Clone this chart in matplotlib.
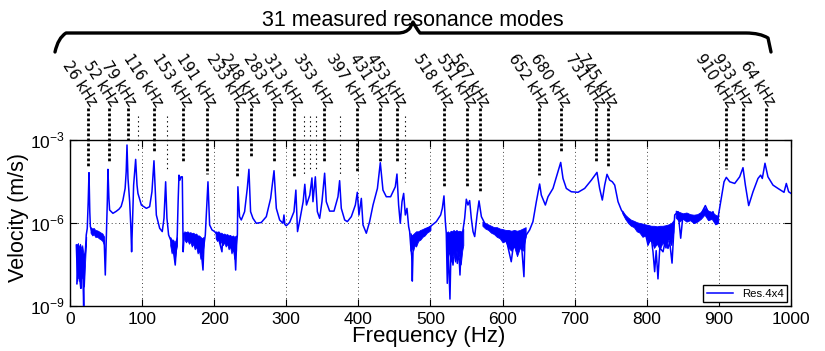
import numpy as np
import matplotlib
matplotlib.use("Agg")
import matplotlib.pyplot as plt
from matplotlib.path import Path
from matplotlib.patches import PathPatch
import matplotlib.transforms as mtrans

plt.rcParams['font.family'] = ['Liberation Sans', 'DejaVu Sans']
plt.rcParams['mathtext.fontset'] = 'custom'
plt.rcParams['mathtext.rm'] = 'Liberation Sans'

freq_hz = [8.8, 10.5, 12.2, 13.6, 15.0, 16.5, 18.0, 19.0, 19.8, 21.2, 22.6, 24.0, 25.3, 26.4,
           27.5, 28.3, 30, 35, 40, 44, 47.5, 49.0, 50.5, 51.8, 52.7, 54, 55, 59.6, 64, 68,
           71, 73.5, 76.5, 78, 79.1, 80.5, 82.8, 84.5, 85.5, 86.8, 88.3, 91.1, 93, 94.3,
           99, 106, 110.5, 113.7, 116.5, 119.8, 124.4, 128, 130.4, 132.7, 134.5, 136.8,
           140.5, 143, 146, 147.5, 148.8, 150, 151.2, 152.5, 154, 155.8, 157, 158.5, 165,
           172, 178, 182, 184.5, 185.8, 187.7, 189.5, 191.4, 193.7, 197, 200.6, 205, 210.8,
           212, 218, 224, 228.5, 229.8, 231, 232.2, 232.9, 235.2, 237.6, 242.2, 245.9,
           248.2, 250.5, 253.8, 258.4, 265.4, 272.3, 278.3, 283, 286.2, 290.8, 295.4,
           296.8, 298, 300, 304.7, 310.7, 313.3, 315.6, 318.8, 323.4, 325.7, 328, 332.6,
           335.6, 337, 340.3, 343.1, 346.3, 349.5, 353.2, 355.5, 360.1, 366.2, 371.7, 374,
           376.3, 381, 384.7, 390.2, 395.8, 398.5, 400.8, 404.1, 406.4, 411, 415.6, 420.3,
           426.4, 430.4, 434.1, 438.7, 444.7, 451.2, 453.5, 455.8, 458.1, 460.5, 462.8,
           465.1, 467.4, 469.7, 471.1, 472.5, 474.0, 474.8, 476, 480, 486, 492, 496.5,
           501.1, 508.1, 514.1, 516.4, 518.7, 520.6, 521.9, 523.3, 524.5, 527.0, 528.5,
           531.2, 534, 537.2, 539, 540.9, 542.5, 544.1, 547.4, 549.7, 552, 554.3, 556.6,
           559, 561.3, 564.6, 567.3, 570.6, 575.2, 582.2, 589.1, 595, 600, 606, 612, 615,
           620, 626, 629.6, 631, 632.9, 637.5, 642.1, 646.8, 651.4, 653.7, 659.3, 663,
           669.9, 676.8, 680.6, 683.8, 688.4, 695.3, 704.6, 713.8, 723.1, 730.9, 734.6,
           738.3, 741.6, 744.8, 748.5, 752.2, 755.5, 760.1, 764.7, 771.7, 778.6, 788, 797,
           801.7, 806, 808.6, 810.9, 813, 815.5, 818, 822.5, 826, 829.4, 831.7, 835, 838.7,
           843.3, 847, 850.2, 854.9, 859.5, 866.4, 871, 875.6, 881.2, 884, 887.2, 891.8,
           895.1, 897.9, 900.2, 903.4, 907.1, 910.3, 915, 921.9, 928.8, 933.4, 936.7,
           941.3, 947.3, 954.2, 957.9, 960.2, 963.9, 968, 975, 981.9, 990.3, 993.5, 996.7,
           1000]
vel_exp = [-6.8, -8.1, -6.9, -8.0, -8.36, -7.0, -7.9, -9.0, -7.3, -7.1, -6.43, -6.19, -5.23, -4.18,
           -5.59, -6.13, -6.28, -6.36, -6.42, -6.5, -6.67, -7.88, -6.43, -5.23, -4.06, -5.1, -5.53, -5.65, -5.58, -5.5,
           -5.4, -5.17, -4.75, -4.14, -3.18, -4.39, -5.23, -6.19, -7.04, -5.95, -4.63, -3.70, -4.63, -4.93,
           -5.35, -5.47, -5.41, -4.87, -3.75, -5.71, -6.19, -6.31, -5.83, -4.51, -5.83, -6.43,
           -6.67, -6.9, -7.52, -6.92, -6.43, -5.23, -4.27, -4.45, -4.33, -4.33, -7.04, -6.37, -6.5,
           -6.6, -6.75, -7.0, -7.70, -6.8, -6.43, -5.47, -4.51, -6.07, -6.25, -6.31, -6.45, -7.04,
           -6.5, -6.6, -6.7, -7.0, -7.7, -6.8, -6.43, -4.69, -5.77, -5.89, -5.59, -4.75,
           -4.06, -5.59, -5.83, -6.01, -5.98, -5.77, -5.11, -4.11, -5.47, -5.89, -6.01,
           -5.71, -6.05, -6.10, -5.98, -5.59, -4.81, -6.31, -5.89, -5.23, -4.60, -5.35, -4.99,
           -4.37, -5.23, -4.33, -5.59, -5.83, -5.23, -4.20, -5.23, -5.57, -5.57, -5.05, -4.47,
           -5.47, -5.89, -5.95, -5.77, -5.35, -4.89, -5.71, -5.11, -6.07, -6.37, -5.95, -5.35,
           -4.75, -3.82, -4.81, -5.05, -5.05, -4.69, -4.23, -5.35, -6.01, -5.23, -4.93,
           -5.71, -5.47, -6.13, -6.31, -6.8, -7.2, -8.10, -6.8, -6.6, -6.4, -6.25, -6.19,
           -6.10, -5.95, -5.71, -5.47, -5.02, -5.95, -6.37, -8.18, -6.8, -8.75, -6.9,
           -7.52, -6.8, -7.46, -6.9, -7.88, -6.9, -6.43, -5.83, -5.14, -5.35, -5.19, -5.83,
           -6.31, -6.49, -5.71, -5.20, -5.77, -6.01, -6.19, -6.31, -6.45, -6.5, -6.7, -7.4, -6.8,
           -6.7, -6.7, -7.94, -6.6, -6.43, -6.25, -5.95, -5.23, -4.59, -4.99, -5.35, -5.05,
           -4.75, -4.14, -3.81, -4.39, -4.75, -4.87, -4.89, -4.75, -4.45, -4.17, -4.75,
           -5.17, -4.63, -4.24, -4.45, -4.51, -4.63, -5.23, -5.53, -5.83, -6.01, -6.1, -6.25,
           -6.8, -6.5, -7.04, -7.76, -7.0, -8.02, -6.9, -7.04, -6.6, -6.92, -6.67, -7.45, -5.71,
           -5.59, -6.55, -5.71, -5.89, -5.77, -6.01, -5.89, -5.65, -5.37, -5.53, -5.77, -5.59,
           -5.89, -5.95, -5.59, -5.11, -4.51, -4.35, -4.51, -4.57, -4.33, -4.00, -4.63,
           -5.37, -4.87, -4.39, -4.27, -4.39, -3.84, -4.33, -4.63, -4.75, -4.89, -4.57, -4.87,
           -4.93]

# noisy stretches: (frequencies, upper log10 envelope, lower log10 envelope)
noise_bands = [
    ([9, 10, 11, 12, 13, 14, 15, 16, 17, 18, 19.5, 21, 22.5],
     [-6.75, -6.9, -6.72, -6.95, -6.8, -6.75, -6.85, -6.95, -6.8, -7.0, -7.2, -6.9, -6.5],
     [-8.2, -7.6, -8.0, -7.5, -8.1, -7.7, -8.35, -7.6, -8.0, -7.8, -8.3, -7.4, -6.6]),
    ([28.5, 31, 33, 35, 38, 40, 43, 45, 47.5],
     [-6.15, -6.2, -6.18, -6.25, -6.27, -6.3, -6.35, -6.38, -6.5],
     [-6.35, -6.45, -6.4, -6.5, -6.5, -6.55, -6.6, -6.65, -6.8]),
    ([139, 141, 143, 145, 147, 148.5],
     [-6.5, -6.6, -6.6, -6.7, -6.6, -6.5],
     [-6.8, -7.1, -6.9, -7.4, -7.0, -6.8]),
    ([158.5, 161, 163, 165, 167, 169, 171, 173, 175, 177, 179, 181, 183, 185.5],
     [-6.3, -6.33, -6.3, -6.35, -6.33, -6.37, -6.35, -6.4, -6.38, -6.45, -6.45, -6.5, -6.55, -6.5],
     [-6.6, -6.7, -6.62, -6.75, -6.68, -6.85, -6.75, -6.95, -6.85, -7.1, -7.0, -7.3, -7.2, -6.8]),
    ([202, 204, 206, 208, 210, 212, 214, 216, 218, 220, 222, 224, 226, 228, 230.5],
     [-6.3, -6.32, -6.3, -6.36, -6.35, -6.4, -6.38, -6.42, -6.4, -6.45, -6.43, -6.48, -6.45, -6.5, -6.45],
     [-6.55, -6.65, -6.6, -6.75, -6.65, -6.8, -6.7, -6.85, -6.75, -6.95, -6.85, -7.1, -6.95, -7.3, -7.0]),
    ([472, 474, 476, 478, 480, 483, 486, 489, 492, 495, 498, 500],
     [-6.35, -6.45, -6.4, -6.35, -6.3, -6.3, -6.25, -6.22, -6.18, -6.15, -6.12, -6.1],
     [-7.0, -6.9, -7.0, -6.8, -6.85, -6.65, -6.6, -6.5, -6.45, -6.35, -6.3, -6.25]),
    ([522, 524, 526, 528, 530, 532, 534, 536, 538, 540, 542, 544, 545.5],
     [-6.35, -6.3, -6.35, -6.28, -6.3, -6.25, -6.3, -6.25, -6.3, -6.28, -6.3, -6.3, -6.2],
     [-7.1, -7.3, -7.0, -7.4, -7.2, -7.1, -7.4, -7.0, -7.3, -7.1, -7.5, -7.0, -6.8]),
    ([572, 576, 580, 584, 588, 592, 596, 600, 604, 608, 612, 616, 620, 624, 628, 632],
     [-5.95, -6.0, -6.05, -6.1, -6.15, -6.15, -6.2, -6.22, -6.25, -6.25, -6.28, -6.25, -6.28, -6.25, -6.2, -6.15],
     [-6.1, -6.2, -6.25, -6.35, -6.4, -6.5, -6.55, -6.7, -6.65, -6.9, -7.0, -6.85, -7.2, -6.9, -7.0, -6.5]),
    ([766, 770, 774, 778, 782, 786, 790, 794, 798, 802, 806, 810, 814, 818, 822, 826, 830, 834, 837],
     [-5.55, -5.7, -5.8, -5.88, -5.92, -5.97, -6.0, -6.02, -6.05, -6.07, -6.1, -6.1, -6.12, -6.1, -6.1, -6.08, -6.05, -6.0, -5.9],
     [-5.65, -5.85, -6.0, -6.1, -6.15, -6.3, -6.35, -6.5, -6.45, -6.7, -6.6, -6.9, -6.75, -6.95, -6.7, -6.9, -6.6, -6.8, -6.3]),
    ([840, 845, 850, 855, 860, 865, 870, 875, 880, 885, 890, 895, 899],
     [-5.55, -5.6, -5.65, -5.62, -5.68, -5.7, -5.68, -5.6, -5.45, -5.55, -5.6, -5.7, -5.75],
     [-5.8, -5.95, -5.85, -5.95, -5.9, -6.0, -5.95, -5.85, -5.7, -5.9, -5.85, -6.05, -6.0]),
]

# labelled resonance modes: frequency, label, log10 level where the marker stops
mode_freq = [25, 54, 80, 116.5, 157, 190, 232, 251, 283, 311, 352, 398, 430, 453.5,
             519, 550.6, 568.7, 650.5, 680.6, 730, 746, 910, 933.6, 965]
mode_label = ['26 kHz', '52 kHz', '79 kHz', '116 kHz', '153 kHz', '191 kHz', '233 kHz', '248 kHz',
              '283 kHz', '313 kHz', '353 kHz', '397 kHz', '431 kHz', '453 kHz', '518 kHz', '551 kHz',
              '567 kHz', '652 kHz', '680 kHz', '731 kHz', '745 kHz', '910 kHz', '933 kHz', '64 kHz']
mode_end = [-3.93, -3.76, -3.0, -3.42, -3.81, -4.23, -4.29, -3.65, -3.76, -4.37, -3.80, -4.19,
            -3.80, -3.80, -4.65, -4.73, -4.87, -4.26, -3.47, -3.78, -3.96, -4.05, -3.72, -3.65]
# unlabelled modes
minor_freq = [94, 134.5, 324.5, 333, 341, 374.5, 465]
minor_end = [-3.42, -4.12, -4.26, -4.08, -4.08, -4.26, -4.52]

ylog = (-9, -3)

fig = plt.figure(figsize=(8.25, 3.51), dpi=100)
ax = fig.add_axes([0.0848, 0.1282, 0.874, 0.4729])

v = 10.0 ** np.array(vel_exp)
ax.plot(freq_hz, v, color='#0000ff', lw=1.1, label='Res.4x4', zorder=3)
for bf, bhi, blo in noise_bands:
    ax.fill_between(bf, 10.0 ** np.array(blo), 10.0 ** np.array(bhi), color='#0000ff', lw=0.6,
                    edgecolor='#0000ff', zorder=3)

ax.set_yscale('log')
ax.set_xlim(0, 1000)
ax.set_ylim(10.0 ** ylog[0], 10.0 ** ylog[1])
ax.set_xticks(np.arange(0, 1001, 100))
ax.set_yticks([1e-9, 1e-6, 1e-3])
ax.set_yticklabels([r'$10^{-9}$', r'$10^{-6}$', r'$10^{-3}$'])
ax.yaxis.set_minor_locator(matplotlib.ticker.NullLocator())
ax.tick_params(direction='in', top=True, right=True, length=5, width=0.8, labelsize=12.5, pad=4)
ax.grid(True, color='black', lw=0.6, linestyle=(0, (1, 3.5)))
for s in ax.spines.values():
    s.set_linewidth(1.0)

ax.set_xlabel('Frequency (Hz)', fontsize=16)
ax.set_ylabel('Velocity (m/s)', fontsize=15.5)
ax.xaxis.set_label_coords(0.497, -0.118)
ax.yaxis.set_label_coords(-0.057, 0.536)

leg = ax.legend(loc='lower right', fontsize=8.2, handlelength=2.3, borderaxespad=0.35,
                fancybox=False, edgecolor='black', framealpha=1, borderpad=0.3)
leg.get_frame().set_linewidth(1.0)

def frac_to_val(frac):
    return 10.0 ** (ylog[0] + frac * (ylog[1] - ylog[0]))

top_major = frac_to_val(1.193)
top_minor = frac_to_val(1.145)
blend = mtrans.blended_transform_factory(ax.transData, ax.transAxes)

for f, lab, e in zip(mode_freq, mode_label, mode_end):
    ax.plot([f, f], [top_major, 10.0 ** e], color='black', lw=2.0,
            linestyle=(0, (1, 0.8)), clip_on=False, zorder=4)
    ax.text(f + 7, 1.21, lab, transform=blend, rotation=-57, rotation_mode='anchor',
            ha='right', va='center', fontsize=10.5, family='DejaVu Sans', clip_on=False)

for f, e in zip(minor_freq, minor_end):
    ax.plot([f, f], [top_minor, 10.0 ** e], color='black', lw=0.8,
            linestyle=(0, (1.2, 3.0)), clip_on=False, zorder=4)

# brace over all modes
W, H = 825.0, 351.0
pts = [(55, 52), (58, 38), (66, 33), (80, 33), (398, 33), (406, 33), (410, 28), (413, 22),
       (416, 28), (420, 33), (428, 33), (746, 33), (760, 33), (768, 38), (771, 52)]
codes = [Path.MOVETO, Path.CURVE3, Path.CURVE3, Path.LINETO, Path.LINETO, Path.CURVE3, Path.CURVE3,
         Path.LINETO, Path.CURVE3, Path.CURVE3, Path.LINETO, Path.LINETO, Path.CURVE3, Path.CURVE3,
         Path.LINETO]
brace = Path([(x / W, 1 - y / H) for x, y in pts], codes)
fig.add_artist(PathPatch(brace, transform=fig.transFigure, fill=False, lw=2.4, color='black',
                         capstyle='round', joinstyle='round'))
fig.text(0.5, 1 - 20 / H, '31 measured resonance modes', ha='center', va='center', fontsize=15.5)

fig.savefig('out.png', dpi=100)
